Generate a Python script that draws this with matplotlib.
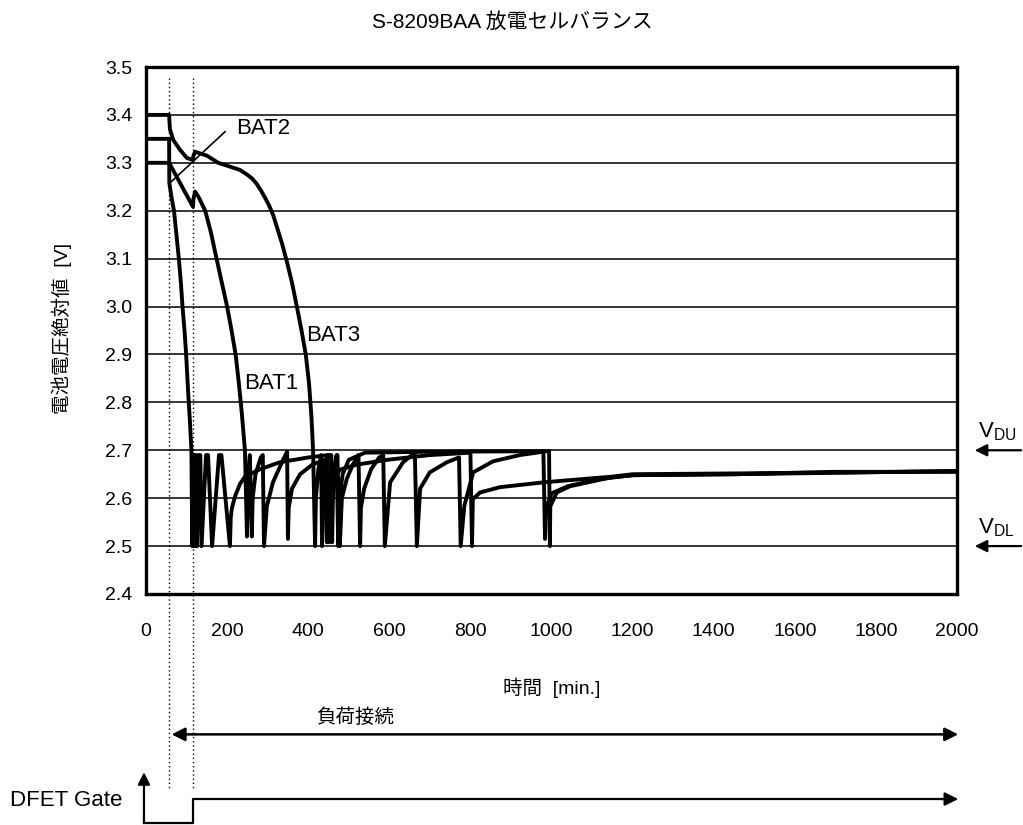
import matplotlib
matplotlib.use("Agg")
import matplotlib.pyplot as plt

plt.rcParams['font.family'] = ['Liberation Sans', 'Noto Sans CJK JP', 'DejaVu Sans']
plt.rcParams['mathtext.fontset'] = 'custom'
plt.rcParams['mathtext.rm'] = 'Liberation Sans'
plt.rcParams['mathtext.it'] = 'Liberation Sans'

# ---------------- data ----------------
title = "S-8209BAA 放電セルバランス"
x_label = "時間  [min.]"
y_label = "電池電圧絶対値  [V]"
x_ticks = [0, 200, 400, 600, 800, 1000, 1200, 1400, 1600, 1800, 2000]
y_ticks = [2.4, 2.5, 2.6, 2.7, 2.8, 2.9, 3.0, 3.1, 3.2, 3.3, 3.4, 3.5]

bat1_t = [0, 57, 116, 117, 121, 130, 138, 146, 160, 174,
          187, 200, 211, 221, 229, 236, 241, 244, 249, 252,
          256, 261, 263, 270, 283, 288, 291, 298, 313, 338,
          348, 350, 352, 360, 380, 410, 440, 446, 449, 460,
          480, 520, 594, 700, 800, 804, 806, 824, 873, 980,
          1050, 1150, 1200, 1500, 2000]
bat1_v = [3.30, 3.30, 3.208, 3.225, 3.24, 3.228, 3.214, 3.20, 3.155, 3.10,
          3.05, 3.00, 2.95, 2.90, 2.84, 2.78, 2.73, 2.70, 2.52, 2.64,
          2.69, 2.52, 2.60, 2.65, 2.685, 2.69, 2.50, 2.583, 2.633, 2.68,
          2.697, 2.515, 2.58, 2.62, 2.65, 2.67, 2.68, 2.508, 2.60, 2.64,
          2.66, 2.67, 2.68, 2.69, 2.695, 2.50, 2.598, 2.612, 2.623, 2.633,
          2.638, 2.645, 2.65, 2.652, 2.656]

bat2_t = [0, 57, 57.5, 63, 69, 75, 81, 86, 90, 95,
          99, 104, 108, 112, 114, 116, 118, 120, 122, 124,
          126, 130, 134, 137, 148, 153, 163, 180, 186, 207,
          209, 212, 220, 232, 244, 280, 330, 400, 450, 457,
          459, 461, 466, 472, 478, 483, 495, 510, 524, 528,
          530, 538, 555, 575, 585, 589, 602, 634, 663, 668,
          676, 700, 742, 772, 776, 785, 807, 856, 922, 980,
          984, 987, 1000, 1040, 1120, 1200, 1450, 1700, 2000]
bat2_v = [3.35, 3.35, 3.258, 3.228, 3.20, 3.15, 3.10, 3.05, 3.00, 2.95,
          2.90, 2.82, 2.765, 2.70, 2.50, 2.69, 2.50, 2.69, 2.50, 2.69,
          2.50, 2.69, 2.69, 2.50, 2.69, 2.69, 2.50, 2.69, 2.69, 2.50,
          2.56, 2.58, 2.605, 2.63, 2.645, 2.66, 2.675, 2.685, 2.69, 2.69,
          2.508, 2.60, 2.65, 2.69, 2.50, 2.60, 2.64, 2.67, 2.69, 2.50,
          2.58, 2.62, 2.66, 2.685, 2.69, 2.50, 2.633, 2.675, 2.695, 2.50,
          2.62, 2.654, 2.675, 2.685, 2.50, 2.584, 2.654, 2.677, 2.69, 2.697,
          2.515, 2.58, 2.61, 2.625, 2.64, 2.648, 2.65, 2.655, 2.655]

bat3_t = [0, 57, 59, 67, 84, 101, 116, 117, 121, 150,
          178, 200, 232, 250, 262, 273, 283, 293, 303, 314,
          325, 336, 347, 360, 372, 384, 394, 402, 408, 412,
          417, 419, 425, 432, 434, 437, 442, 448, 452, 455,
          463, 470, 474, 477, 485, 500, 540, 700, 980, 994,
          996, 997, 1013, 1046, 1144, 1200, 1450, 1700, 2000]
bat3_v = [3.40, 3.40, 3.37, 3.348, 3.327, 3.31, 3.306, 3.315, 3.323, 3.315,
          3.30, 3.294, 3.285, 3.275, 3.267, 3.256, 3.243, 3.228, 3.212, 3.19,
          3.16, 3.13, 3.095, 3.05, 3.00, 2.948, 2.90, 2.84, 2.77, 2.70,
          2.50, 2.60, 2.66, 2.69, 2.50, 2.60, 2.67, 2.69, 2.508, 2.60,
          2.66, 2.69, 2.50, 2.60, 2.65, 2.68, 2.695, 2.697, 2.698, 2.698,
          2.50, 2.583, 2.612, 2.625, 2.643, 2.648, 2.65, 2.653, 2.657]

marker_times = [57, 116]          # dotted event lines [min]
v_du = 2.7
v_dl = 2.5

# ---------------- figure ----------------
W, H = 1023, 825
fig = plt.figure(figsize=(W / 100, H / 100), dpi=100)
ax = fig.add_axes([146 / W, 1 - 594 / H, 811 / W, 527 / H])

ax.set_xlim(0, 2000)
ax.set_ylim(2.4, 3.5)
ax.set_xticks(x_ticks)
ax.set_yticks(y_ticks)
ax.set_xticklabels([str(t) for t in x_ticks])
ax.set_yticklabels([f"{v:.1f}" for v in y_ticks])
ax.tick_params(length=0, labelsize=14)
ax.tick_params(axis='x', pad=21)
ax.tick_params(axis='y', pad=10)
for s in ax.spines.values():
    s.set_linewidth(2.4)
    s.set_color('black')
for yv in y_ticks[1:-1]:
    ax.axhline(yv, color='black', lw=1.1, zorder=1)

for t, v in [(bat1_t, bat1_v), (bat2_t, bat2_v), (bat3_t, bat3_v)]:
    assert len(t) == len(v)
    ax.plot(t, v, color='black', lw=2.8, solid_joinstyle='round',
            solid_capstyle='round', zorder=3)

# labels on curves
lab_fs = 16
ax.text(222, 3.372, "BAT2", fontsize=lab_fs, va='center', ha='left')
ax.plot([59, 195], [3.258, 3.365], color='black', lw=1.2, zorder=4)
ax.text(396, 2.94, "BAT3", fontsize=lab_fs, va='center', ha='left')
ax.text(243, 2.84, "BAT1", fontsize=lab_fs, va='center', ha='left')

# dotted event lines, extending below the axes
for mt in marker_times:
    ax.plot([mt, mt], [3.477, 1.995], color='black', lw=1.0,
            ls=(0, (1, 2)), clip_on=False, zorder=2)

# V_DU / V_DL arrows outside right
for yv, lab in [(v_du, r"V$_{\mathrm{DU}}$"), (v_dl, r"V$_{\mathrm{DL}}$")]:
    ax.annotate("", xy=(2037, yv), xytext=(2165, yv),
                arrowprops=dict(arrowstyle='-|>', color='black', lw=1.6,
                                mutation_scale=18),
                annotation_clip=False)
    ax.text(2053, yv + 0.038, lab, fontsize=lab_fs, ha='left', va='center',
            clip_on=False)

# axis titles
fig.text(512 / W, 1 - 22 / H, title, fontsize=15, ha='center', va='center')
fig.text(552 / W, 1 - 688 / H, x_label, fontsize=14, ha='center', va='center')
fig.text(62 / W, 1 - 328 / H, y_label, fontsize=14, ha='center', va='center',
         rotation=90)

# load connection arrow
y_load = 2.107
ax.annotate("", xy=(63, y_load), xytext=(2003, y_load),
            arrowprops=dict(arrowstyle='<|-|>', color='black', lw=1.8,
                            mutation_scale=20, shrinkA=0, shrinkB=0),
            annotation_clip=False)
ax.text(515, 2.142, "負荷接続", fontsize=14,
        ha='center', va='center', clip_on=False)

# DFET gate signal
y_low, y_high = 1.922, 1.972
ax.plot([-5, 116, 116, 1990], [y_low, y_low, y_high, y_high],
        color='black', lw=1.6, clip_on=False, zorder=3)
ax.annotate("", xy=(2003, y_high), xytext=(1960, y_high),
            arrowprops=dict(arrowstyle='-|>', color='black', lw=1.6,
                            mutation_scale=20, shrinkA=0, shrinkB=0),
            annotation_clip=False)
ax.annotate("", xy=(-5, 2.028), xytext=(-5, y_low),
            arrowprops=dict(arrowstyle='-|>', color='black', lw=1.6,
                            mutation_scale=18, shrinkA=0, shrinkB=0),
            annotation_clip=False)
fig.text(10 / W, 1 - 800 / H, "DFET Gate", fontsize=lab_fs, ha='left',
         va='center')

fig.savefig("out.png", dpi=100, facecolor='white')
